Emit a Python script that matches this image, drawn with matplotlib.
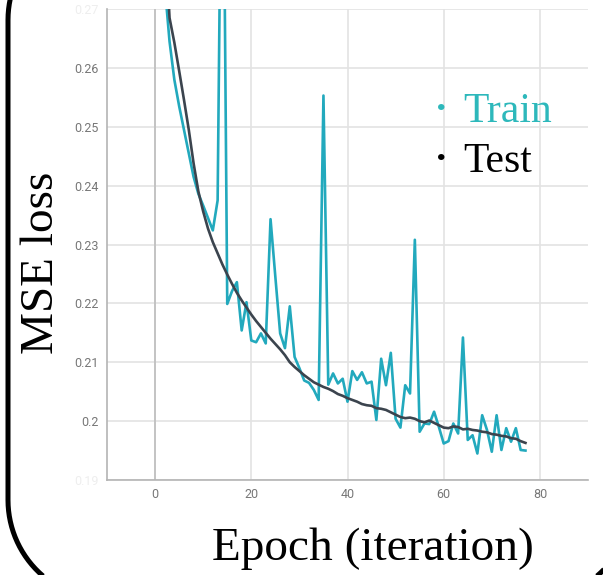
import numpy as np
import matplotlib
matplotlib.use("Agg")
import matplotlib.pyplot as plt
from matplotlib.path import Path
from matplotlib.patches import PathPatch
from matplotlib.transforms import Affine2D

# epoch index
epochs = list(range(78))

# MSE loss train (teal) - one value per epoch
train_loss = [0.340, 0.300, 0.274, 0.2645, 0.2580, 0.2535, 0.2495, 0.2455, 0.2415, 0.2386,
              0.2366, 0.2345, 0.2324, 0.2375, 0.3200, 0.2199, 0.2221, 0.2236, 0.2154, 0.2202,
              0.2137, 0.2134, 0.2149, 0.2132, 0.2343, 0.2245, 0.2149, 0.2124, 0.2195, 0.2109,
              0.2090, 0.2069, 0.2065, 0.2053, 0.2036, 0.2553, 0.2062, 0.2081, 0.2064, 0.2072,
              0.2033, 0.2085, 0.2070, 0.2083, 0.2064, 0.2067, 0.2002, 0.2106, 0.2061, 0.2116,
              0.2004, 0.1989, 0.2061, 0.2047, 0.2308, 0.1982, 0.1996, 0.1995, 0.2016, 0.1990,
              0.1962, 0.1966, 0.1996, 0.1979, 0.2142, 0.1968, 0.1976, 0.1945, 0.2010, 0.1985,
              0.1948, 0.2010, 0.1951, 0.1988, 0.1965, 0.1988, 0.1951, 0.1950]

# MSE loss test (dark line)
test_loss = [0.352, 0.315, 0.284, 0.2685, 0.2643, 0.2595, 0.2546, 0.2495, 0.2438, 0.2390,
             0.2356, 0.2327, 0.2304, 0.2285, 0.2266, 0.2249, 0.2233, 0.2218, 0.2205, 0.2193,
             0.2181, 0.2170, 0.2160, 0.2150, 0.2140, 0.2131, 0.2122, 0.2112, 0.2100, 0.2092,
             0.2085, 0.2078, 0.2072, 0.2066, 0.2062, 0.2058, 0.2055, 0.2051, 0.2046, 0.2043,
             0.2039, 0.2036, 0.2033, 0.2029, 0.2027, 0.2026, 0.2022, 0.2021, 0.2019, 0.2015,
             0.2011, 0.2007, 0.2005, 0.2006, 0.2004, 0.2000, 0.1998, 0.2001, 0.1997, 0.1993,
             0.1989, 0.1988, 0.1991, 0.1990, 0.1986, 0.1987, 0.1985, 0.1984, 0.1982, 0.1981,
             0.1978, 0.1977, 0.1975, 0.1974, 0.1971, 0.1970, 0.1966, 0.1963]

x_ticks = [0, 20, 40, 60, 80]
x_tick_labels = ["0", "20", "40", "60", "80"]
y_ticks = [0.19, 0.20, 0.21, 0.22, 0.23, 0.24, 0.25, 0.26, 0.27]
y_tick_labels = ["0.19", "0.2", "0.21", "0.22", "0.23", "0.24", "0.25", "0.26", "0.27"]

serif = ["Liberation Serif", "Noto Sans CJK JP", "DejaVu Serif"]
teal = "#22a9bd"
dark = "#3b444e"

fig = plt.figure(figsize=(6.03, 5.75), dpi=100)
ax = fig.add_axes([107/603, 95/575, 481/603, 471/575])

# grille claire
ax.set_xlim(-10, 90)
ax.set_ylim(0.19, 0.27)
ax.set_xticks(x_ticks)
ax.set_xticklabels(x_tick_labels)
ax.set_yticks(y_ticks)
ax.set_yticklabels(y_tick_labels)
ax.grid(True, color="#e3e3e3", linewidth=1.2)
ax.set_axisbelow(True)
ax.tick_params(length=0, pad=6, labelsize=9, colors="#777777")
for lab in ax.get_xticklabels() + ax.get_yticklabels():
    lab.set_family("Roboto")
# labels 0.19 / 0.27 presque effacés
ax.get_yticklabels()[0].set_color("#eeeeee")
ax.get_yticklabels()[-1].set_color("#eeeeee")

for s in ["top", "right"]:
    ax.spines[s].set_visible(False)
for s in ["left", "bottom"]:
    ax.spines[s].set_color("#b4b4b4")
    ax.spines[s].set_linewidth(1.2)
ax.axvline(0, color="#bdbdbd", linewidth=1.2, zorder=1)

# courbes
ax.plot(epochs, train_loss, color=teal, linewidth=1.9, zorder=3)
ax.plot(epochs, test_loss, color=dark, linewidth=1.9, zorder=4)

# legende en texte : petit point + mot
fig.text(441/603, 1-117.5/575, "・", color="#2db8bb", family=serif,
         fontsize=22, ha="center", va="baseline")
fig.text(463/603, 1-122/575, "Train", color="#2db8bb", family=serif,
         fontsize=30, ha="left", va="baseline")
fig.text(441/603, 1-168.5/575, "・", color="black", family=serif,
         fontsize=22, ha="center", va="baseline")
fig.text(463/603, 1-172/575, "Test", color="black", family=serif,
         fontsize=30, ha="left", va="baseline")

# titres des axes
fig.text(42/603, 1-263/575, "MSE loss", family=serif, fontsize=34,
         rotation=90, ha="center", va="center")
fig.text(373/603, 1-549/575, "Epoch (iteration)", family=serif, fontsize=34,
         ha="center", va="center")

# cadre arrondi (coordonnées en pixels, y vers le bas)
def cadre_arrondi(x0, y0, x1, y1, r):
    pts = []
    coins = [(x1 - r, y0 + r, -90, 0), (x1 - r, y1 - r, 0, 90),
             (x0 + r, y1 - r, 90, 180), (x0 + r, y0 + r, 180, 270)]
    for cx, cy, a0, a1 in coins:
        t = np.radians(np.linspace(a0, a1, 30))
        for a in t:
            pts.append((cx + r*np.cos(a), cy + r*np.sin(a)))
    pts.append(pts[0])
    return Path(pts)

trans = Affine2D().scale(1/603, -1/575).translate(0, 1) + fig.transFigure
cadre = PathPatch(cadre_arrondi(8, -80, 632, 600, 100), transform=trans,
                  fill=False, edgecolor="black", linewidth=3.6, clip_on=False)
fig.patches.append(cadre)

fig.savefig("out.png", dpi=100)
